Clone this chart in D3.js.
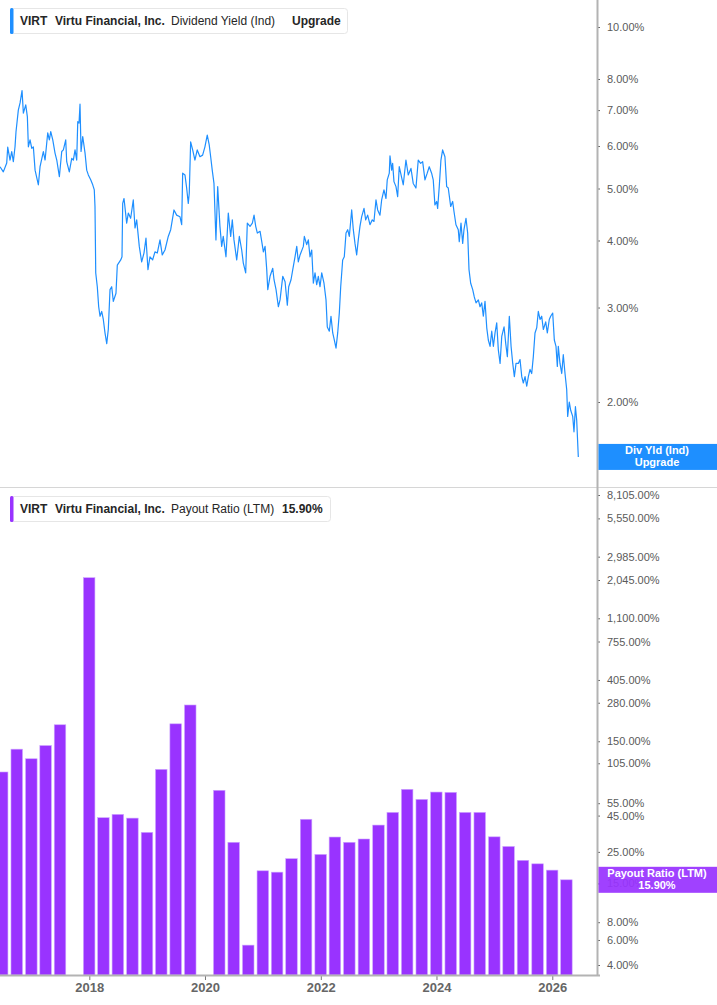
<!DOCTYPE html>
<html>
<head>
<meta charset="utf-8">
<script src="https://cdn.jsdelivr.net/npm/d3@7"></script>
<style>
  body { margin: 0; background: #fff; }
  svg { display: block; font-family: "Liberation Sans", Arial, sans-serif; }
</style>
</head>
<body>
<svg id="chart" width="717" height="1005"></svg>
<script>
// dividend yield (%), dates as decimal years
const yieldT = [
  2016.457, 2016.514, 2016.573, 2016.590, 2016.630, 2016.659, 2016.687, 2016.716, 2016.733, 2016.773,
  2016.803, 2016.837, 2016.860, 2016.901, 2016.929, 2016.946, 2016.975, 2017.005, 2017.032, 2017.062,
  2017.119, 2017.148, 2017.205, 2017.235, 2017.281, 2017.309, 2017.333, 2017.368, 2017.407, 2017.437,
  2017.482, 2017.523, 2017.551, 2017.592, 2017.609, 2017.654, 2017.696, 2017.724, 2017.753, 2017.782,
  2017.800, 2017.822, 2017.839, 2017.857, 2017.886, 2017.926, 2017.955, 2017.983, 2018.024, 2018.059,
  2018.086, 2018.098, 2018.111, 2018.138, 2018.162, 2018.185, 2018.214, 2018.242, 2018.271, 2018.301,
  2018.328, 2018.358, 2018.387, 2018.415, 2018.461, 2018.484, 2018.543, 2018.565, 2018.577, 2018.600,
  2018.646, 2018.674, 2018.715, 2018.760, 2018.790, 2018.819, 2018.864, 2018.905, 2018.945, 2018.980,
  2019.014, 2019.049, 2019.095, 2019.135, 2019.175, 2019.222, 2019.261, 2019.308, 2019.365, 2019.407,
  2019.464, 2019.510, 2019.567, 2019.597, 2019.614, 2019.654, 2019.683, 2019.711, 2019.728, 2019.752,
  2019.787, 2019.826, 2019.866, 2019.913, 2019.959, 2019.999, 2020.039, 2020.073, 2020.098, 2020.125,
  2020.155, 2020.189, 2020.219, 2020.258, 2020.288, 2020.315, 2020.362, 2020.402, 2020.443, 2020.471,
  2020.500, 2020.547, 2020.592, 2020.633, 2020.661, 2020.702, 2020.730, 2020.777, 2020.817, 2020.846,
  2020.875, 2020.903, 2020.950, 2020.979, 2021.007, 2021.036, 2021.065, 2021.083, 2021.122, 2021.169,
  2021.191, 2021.226, 2021.266, 2021.295, 2021.342, 2021.382, 2021.421, 2021.445, 2021.485, 2021.515,
  2021.554, 2021.584, 2021.611, 2021.641, 2021.698, 2021.715, 2021.756, 2021.784, 2021.813, 2021.843,
  2021.871, 2021.900, 2021.929, 2021.957, 2021.986, 2022.016, 2022.055, 2022.090, 2022.112, 2022.147,
  2022.176, 2022.206, 2022.233, 2022.263, 2022.292, 2022.320, 2022.344, 2022.378, 2022.406, 2022.436,
  2022.465, 2022.493, 2022.534, 2022.562, 2022.591, 2022.620, 2022.648, 2022.677, 2022.707, 2022.747,
  2022.776, 2022.810, 2022.850, 2022.890, 2022.919, 2022.954, 2022.983, 2023.023, 2023.052, 2023.092,
  2023.127, 2023.149, 2023.184, 2023.196, 2023.225, 2023.242, 2023.265, 2023.300, 2023.329, 2023.356,
  2023.426, 2023.472, 2023.512, 2023.559, 2023.598, 2023.645, 2023.685, 2023.726, 2023.761, 2023.801,
  2023.840, 2023.875, 2023.916, 2023.944, 2023.973, 2024.003, 2024.020, 2024.048, 2024.077, 2024.106,
  2024.146, 2024.176, 2024.203, 2024.245, 2024.279, 2024.302, 2024.336, 2024.376, 2024.393, 2024.423,
  2024.452, 2024.474, 2024.509, 2024.538, 2024.561, 2024.590, 2024.625, 2024.652, 2024.682, 2024.722,
  2024.751, 2024.780, 2024.808, 2024.837, 2024.867, 2024.894, 2024.924, 2024.953, 2024.981, 2025.010,
  2025.039, 2025.067, 2025.097, 2025.126, 2025.166, 2025.195, 2025.223, 2025.257, 2025.287, 2025.316,
  2025.344, 2025.373, 2025.413, 2025.442, 2025.472, 2025.499, 2025.529, 2025.558, 2025.586, 2025.615,
  2025.644, 2025.672, 2025.701, 2025.731, 2025.758, 2025.788, 2025.817, 2025.845, 2025.886, 2025.914,
  2025.948, 2025.972, 2026.007, 2026.035, 2026.064, 2026.087, 2026.104, 2026.133, 2026.163, 2026.190,
  2026.220, 2026.249, 2026.266, 2026.294, 2026.318, 2026.353, 2026.375, 2026.400, 2026.422, 2026.450
];
const yieldV = [
  5.49, 5.37, 5.58, 5.97, 5.65, 5.86, 5.61, 5.98, 6.38, 7.00,
  7.22, 7.61, 6.91, 7.16, 6.80, 5.98, 6.16, 5.94, 5.98, 5.41,
  5.08, 5.49, 5.86, 5.65, 6.35, 6.16, 6.38, 6.16, 5.82, 5.65,
  5.26, 5.86, 5.90, 6.16, 5.61, 5.37, 5.69, 5.65, 5.90, 5.65,
  6.66, 6.62, 7.18, 5.86, 6.25, 5.82, 5.41, 5.30, 5.19, 5.08,
  4.97, 4.63, 3.48, 3.28, 3.01, 2.89, 2.95, 2.85, 2.69, 2.57,
  2.73, 3.24, 3.28, 3.08, 3.19, 3.60, 3.68, 3.73, 4.69, 4.79,
  4.31, 4.50, 4.40, 4.76, 4.22, 4.37, 3.90, 3.65, 3.79, 4.04,
  3.53, 3.73, 3.68, 3.81, 3.79, 4.01, 3.76, 3.84, 4.07, 4.19,
  4.56, 4.46, 4.43, 4.28, 5.34, 5.30, 5.01, 4.69, 4.90, 6.11,
  5.90, 5.65, 5.90, 5.73, 5.77, 5.98, 6.29, 6.03, 5.73, 5.41,
  5.11, 4.01, 5.04, 4.25, 3.90, 4.07, 3.73, 4.50, 4.07, 4.37,
  4.01, 3.68, 4.07, 3.84, 3.63, 3.48, 4.31, 4.25, 4.31, 4.46,
  4.25, 4.13, 4.16, 3.98, 3.81, 3.90, 3.53, 3.24, 3.43, 3.55,
  3.38, 3.24, 3.01, 3.10, 3.43, 3.35, 3.03, 3.28, 3.38, 3.53,
  3.73, 3.90, 3.65, 3.76, 3.90, 4.07, 3.93, 4.01, 3.73, 3.84,
  3.33, 3.48, 3.31, 3.43, 3.28, 3.48, 3.33, 3.10, 2.76, 2.71,
  2.89, 2.69, 2.61, 2.52, 2.69, 2.93, 3.28, 3.68, 3.73, 4.13,
  4.19, 4.07, 4.56, 4.19, 3.95, 3.76, 4.01, 4.25, 4.43, 4.59,
  4.37, 4.46, 4.28, 4.37, 4.34, 4.76, 4.56, 4.46, 4.76, 4.97,
  4.79, 5.19, 5.34, 5.75, 5.41, 5.57, 5.15, 5.04, 4.83, 5.49,
  5.08, 5.65, 5.30, 5.45, 5.11, 5.01, 5.65, 5.57, 5.61, 5.19,
  5.34, 5.49, 5.34, 5.19, 4.66, 4.73, 4.59, 5.04, 5.65, 5.90,
  5.73, 5.04, 5.01, 4.63, 4.73, 4.53, 4.28, 4.19, 3.98, 4.31,
  3.95, 4.19, 4.40, 4.13, 3.53, 3.33, 3.24, 3.14, 3.06, 3.10,
  3.01, 3.06, 2.89, 3.08, 2.75, 2.61, 2.54, 2.71, 2.54, 2.69,
  2.81, 2.50, 2.36, 2.65, 2.76, 2.57, 2.43, 2.89, 2.54, 2.36,
  2.23, 2.36, 2.36, 2.40, 2.23, 2.17, 2.23, 2.14, 2.23, 2.30,
  2.26, 2.43, 2.69, 2.75, 2.95, 2.85, 2.89, 2.73, 2.82, 2.69,
  2.85, 2.89, 2.93, 2.61, 2.54, 2.33, 2.54, 2.36, 2.26, 2.45,
  2.26, 2.11, 1.88, 2.00, 1.93, 1.88, 1.76, 1.96, 1.85, 1.58
];

// payout ratio (LTM, %), quarter ends; null = no bar
const payoutDates = [
  "2016-06-30", "2016-09-30", "2016-12-31", "2017-03-31", "2017-06-30", "2017-09-30", "2017-12-31",
  "2018-03-31", "2018-06-30", "2018-09-30", "2018-12-31", "2019-03-31", "2019-06-30", "2019-09-30",
  "2019-12-31", "2020-03-31", "2020-06-30", "2020-09-30", "2020-12-31", "2021-03-31", "2021-06-30",
  "2021-09-30", "2021-12-31", "2022-03-31", "2022-06-30", "2022-09-30", "2022-12-31", "2023-03-31",
  "2023-06-30", "2023-09-30", "2023-12-31", "2024-03-31", "2024-06-30", "2024-09-30", "2024-12-31",
  "2025-03-31", "2025-06-30", "2025-09-30", "2025-12-31", "2026-03-31"
];
const payoutV = [
  91.2, 132, 113, 140, 196, null, 2123,
  43.5, 45.9, 43.2, 34.3, 95.2, 199, 270,
  null, 67.8, 29.2, 5.52, 18.4, 18.0, 22.4,
  42.4, 24.0, 31.8, 29.2, 30.8, 38.6, 47.4,
  68.9, 58.5, 65.9, 65.6, 47.4, 47.4, 31.9,
  27.3, 21.8, 20.6, 18.6, 15.90
];

const yieldTicks = [10, 8, 7, 6, 5, 4, 3, 2];
const payoutTicks = [8105, 5550, 2985, 2045, 1100, 755, 405, 280, 150, 105, 55, 45, 25, 15, 8, 6, 4];
const yearStart = 2016.457, yearEnd = 2026.773;

const BLUE = "#1e8fff", PURPLE = "#9933ff";

function toDate(t) {
  const y = Math.floor(t);
  const a = Date.UTC(y, 0, 1), b = Date.UTC(y + 1, 0, 1);
  return new Date(a + (t - y) * (b - a));
}

const svg = d3.select("#chart");
const axisX = 597, plotBottom = 975, split = 487;

let x = d3.scaleUtc().domain([toDate(yearStart), toDate(yearEnd)]).range([0, axisX]);
let yTop = d3.scaleLog().domain([2, 10]).range([402, 27]);
let yBot = d3.scaleLog().domain([4, 8105]).range([965, 495]);

let fmt = d3.format(",.2f");

svg.append("defs").call(d => {
  d.append("clipPath").attr("id", "clipTop")
    .append("rect").attr("x", 0).attr("y", 0).attr("width", axisX).attr("height", split);
  d.append("clipPath").attr("id", "clipBot")
    .append("rect").attr("x", 0).attr("y", split).attr("width", axisX).attr("height", plotBottom - split);
});

// panel divider
svg.append("line")
  .attr("x1", 0).attr("x2", 717).attr("y1", split + 0.5).attr("y2", split + 0.5)
  .attr("stroke", "#d6d6d6");

// ---- top: dividend yield line
let yieldData = yieldT.map((t, i) => ({date: toDate(t), value: yieldV[i]}));
let line = d3.line()
  .x(d => x(d.date))
  .y(d => yTop(d.value));

svg.append("path")
  .datum(yieldData)
  .attr("clip-path", "url(#clipTop)")
  .attr("fill", "none")
  .attr("stroke", BLUE)
  .attr("stroke-width", 1.2)
  .attr("stroke-linejoin", "round")
  .attr("d", line);

// ---- bottom: payout ratio bars
let payoutData = payoutDates.map((s, i) => ({date: new Date(s + "T00:00:00Z"), value: payoutV[i]}))
  .filter(d => d.value != null);
let bw = (x(new Date("2020-04-01T00:00:00Z")) - x(new Date("2020-01-01T00:00:00Z"))) * 0.8;

svg.append("g")
  .attr("clip-path", "url(#clipBot)")
  .selectAll("rect")
  .data(payoutData)
  .join("rect")
    .attr("x", d => x(d.date) - bw / 2)
    .attr("y", d => yBot(d.value))
    .attr("width", bw)
    .attr("height", d => plotBottom - yBot(d.value))
    .attr("fill", PURPLE)
    .attr("stroke", "#cda6ff")
    .attr("stroke-width", 0.6);

// ---- right axes
function styleAxis(g) {
  g.select(".domain").remove();
  g.selectAll(".tick line").attr("stroke", "#666");
  g.selectAll(".tick text")
    .attr("fill", "#5a5a5a")
    .attr("font-size", 11)
    .attr("font-family", "'Liberation Sans', Arial, sans-serif");
}

svg.append("g")
  .attr("transform", `translate(${axisX},0)`)
  .call(d3.axisRight(yTop).tickValues(yieldTicks).tickSize(3).tickPadding(7)
    .tickFormat(d => fmt(d) + "%"))
  .call(styleAxis);

svg.append("g")
  .attr("transform", `translate(${axisX},0)`)
  .call(d3.axisRight(yBot).tickValues(payoutTicks).tickSize(3).tickPadding(7)
    .tickFormat(d => fmt(d) + "%"))
  .call(styleAxis);

svg.append("line")
  .attr("x1", axisX + 0.5).attr("x2", axisX + 0.5).attr("y1", 0).attr("y2", plotBottom + 1)
  .attr("stroke", "#b3b3b3").attr("stroke-width", 2);

// ---- x axis
let gx = svg.append("g")
  .attr("transform", `translate(0,${plotBottom})`)
  .call(d3.axisBottom(x).ticks(d3.utcYear.every(2)).tickSize(5).tickPadding(3)
    .tickFormat(d3.utcFormat("%Y")));
gx.select(".domain").remove();
gx.selectAll(".tick line").attr("stroke", "#777");
gx.selectAll(".tick text")
  .attr("fill", "#666")
  .attr("font-size", 13)
  .attr("font-weight", "bold")
  .attr("font-family", "'Liberation Sans', Arial, sans-serif");

svg.append("line")
  .attr("x1", 0).attr("x2", axisX + 3).attr("y1", plotBottom + 0.5).attr("y2", plotBottom + 0.5)
  .attr("stroke", "#b3b3b3").attr("stroke-width", 2);

// ---- legends
function legend(y, color, width, parts) {
  let g = svg.append("g");
  g.append("rect")
    .attr("x", 10.5).attr("y", y + 0.5).attr("width", width).attr("height", 25).attr("rx", 3)
    .attr("fill", "#fff").attr("stroke", "#e6e6e6");
  g.append("rect")
    .attr("x", 10).attr("y", y).attr("width", 3.5).attr("height", 26).attr("rx", 1.5)
    .attr("fill", color);
  parts.forEach(p => {
    g.append("text")
      .attr("x", p.x).attr("y", y + 17)
      .attr("font-size", 12)
      .attr("font-weight", p.bold ? "bold" : "normal")
      .attr("fill", "#262626")
      .text(p.text);
  });
}

legend(8, BLUE, 337, [
  {text: "VIRT", x: 20, bold: true},
  {text: "Virtu Financial, Inc.", x: 55, bold: true},
  {text: "Dividend Yield (Ind)", x: 171},
  {text: "Upgrade", x: 292, bold: true}
]);
legend(496, PURPLE, 320, [
  {text: "VIRT", x: 20, bold: true},
  {text: "Virtu Financial, Inc.", x: 55, bold: true},
  {text: "Payout Ratio (LTM)", x: 171},
  {text: fmt(payoutV[payoutV.length - 1]) + "%", x: 282, bold: true}
]);

// ---- last-value tags on the axis
function tag(cy, color, opacity, lines) {
  let g = svg.append("g");
  g.append("rect")
    .attr("x", axisX + 1.5).attr("y", cy - 13).attr("width", 717 - axisX).attr("height", 26)
    .attr("fill", color).attr("opacity", opacity);
  lines.forEach((t, i) => {
    g.append("text")
      .attr("x", 657).attr("y", cy - 3 + i * 12)
      .attr("text-anchor", "middle")
      .attr("font-size", 11).attr("font-weight", "bold")
      .attr("fill", "#fff")
      .text(t);
  });
}

tag(yTop(yieldV[yieldV.length - 1]), BLUE, 1, ["Div Yld (Ind)", "Upgrade"]);
tag(yBot(payoutV[payoutV.length - 1]), PURPLE, 0.93, ["Payout Ratio (LTM)", fmt(payoutV[payoutV.length - 1]) + "%"]);
</script>
</body>
</html>
